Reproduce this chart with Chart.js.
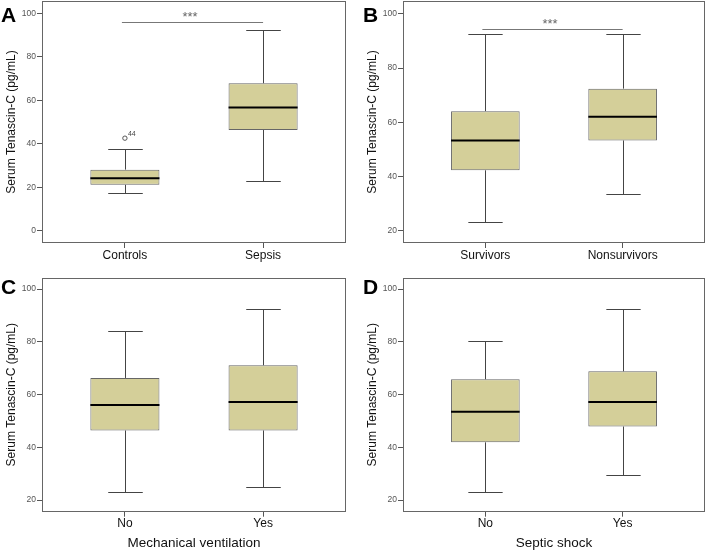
<!DOCTYPE html>
<html>
<head>
<meta charset="utf-8">
<script src="https://cdn.jsdelivr.net/npm/chart.js@4.4.0/dist/chart.umd.min.js"></script>
<style>
  body { margin: 0; background: #fff; }
  #wrap { position: relative; width: 709px; height: 551px; }
  canvas { position: absolute; }
</style>
</head>
<body>
<div id="wrap">
  <canvas id="panel-a" width="355" height="275" style="left:0;top:0"></canvas>
  <canvas id="panel-b" width="354" height="275" style="left:355px;top:0"></canvas>
  <canvas id="panel-c" width="355" height="276" style="left:0;top:275px"></canvas>
  <canvas id="panel-d" width="354" height="276" style="left:355px;top:275px"></canvas>
</div>
<script>
// Panel A: controls vs sepsis
const catsA = ['Controls', 'Sepsis'];
const lowA = [17.4, 23.0];
const q1A = [21.1, 46.4];
const medA = [24.1, 56.7];
const q3A = [28.1, 67.9];
const highA = [37.6, 92.6];
const outliersA = [42.6, null];
const outlierIdsA = ['44', ''];
const sigA = 95.9;

// Panel B: survivors vs nonsurvivors
const catsB = ['Survivors', 'Nonsurvivors'];
const lowB = [23.2, 33.5];
const q1B = [42.3, 53.3];
const medB = [53.3, 62.0];
const q3B = [64.1, 72.4];
const highB = [92.6, 92.6];
const sigB = 94.5;

// Panel C: mechanical ventilation
const catsC = ['No', 'Yes'];
const lowC = [23.2, 24.8];
const q1C = [46.4, 46.4];
const medC = [56.0, 57.2];
const q3C = [66.3, 71.1];
const highC = [84.2, 92.5];

// Panel D: septic shock
const catsD = ['No', 'Yes'];
const lowD = [23.2, 29.4];
const q1D = [41.9, 47.9];
const medD = [53.5, 57.2];
const q3D = [65.8, 68.8];
const highD = [80.3, 92.5];

const ticksA = [0, 20, 40, 60, 80, 100];
const ticksBCD = [20, 40, 60, 80, 100];

const yTitle = 'Serum Tenascin-C (pg/mL)';
const boxFill = '#d4cf99';

Chart.defaults.font.family = 'Arial, "Liberation Sans", sans-serif';
Chart.defaults.animation = false;

function makePanel(id, p) {
    const extras = {
        id: 'boxExtras',
        beforeDatasetsDraw(chart) {
            const ctx = chart.ctx;
            const x = chart.scales.x, y = chart.scales.y;
            const bars = chart.getDatasetMeta(0).data;
            ctx.save();
            ctx.strokeStyle = '#444';
            ctx.lineWidth = 1;
            p.cats.forEach((c, i) => {
                const cx = Math.round(x.getPixelForValue(i)) + 0.5;
                const half = bars[i].width / 4;
                const yLo = Math.round(y.getPixelForValue(p.low[i])) + 0.5;
                const yHi = Math.round(y.getPixelForValue(p.high[i])) + 0.5;
                ctx.beginPath();
                ctx.moveTo(cx, y.getPixelForValue(p.q1[i]));
                ctx.lineTo(cx, yLo);
                ctx.moveTo(cx, y.getPixelForValue(p.q3[i]));
                ctx.lineTo(cx, yHi);
                ctx.moveTo(cx - half, yLo);
                ctx.lineTo(cx + half, yLo);
                ctx.moveTo(cx - half, yHi);
                ctx.lineTo(cx + half, yHi);
                ctx.stroke();
            });
            ctx.restore();
        },
        afterDatasetsDraw(chart) {
            const ctx = chart.ctx;
            const x = chart.scales.x, y = chart.scales.y;
            const bars = chart.getDatasetMeta(0).data;
            ctx.save();
            // medians
            ctx.strokeStyle = '#000';
            ctx.lineWidth = 2;
            p.med.forEach((m, i) => {
                const b = bars[i];
                const ym = y.getPixelForValue(m);
                ctx.beginPath();
                ctx.moveTo(b.x - b.width / 2, ym);
                ctx.lineTo(b.x + b.width / 2, ym);
                ctx.stroke();
            });
            // outliers
            if (p.outliers) {
                ctx.lineWidth = 1;
                ctx.strokeStyle = '#555';
                p.outliers.forEach((v, i) => {
                    if (v == null) return;
                    const cx = x.getPixelForValue(i), cy = y.getPixelForValue(v);
                    ctx.beginPath();
                    ctx.arc(cx, cy, 2.2, 0, Math.PI * 2);
                    ctx.fillStyle = '#fff';
                    ctx.fill();
                    ctx.stroke();
                    ctx.fillStyle = '#444';
                    ctx.font = '7px Arial, "Liberation Sans", sans-serif';
                    ctx.textAlign = 'left';
                    ctx.textBaseline = 'bottom';
                    ctx.fillText(p.outlierIds[i], cx + 3, cy - 1);
                });
            }
            // significance bracket
            if (p.sig != null) {
                const ys = Math.round(y.getPixelForValue(p.sig)) + 0.5;
                const x0 = x.getPixelForValue(0), x1 = x.getPixelForValue(1);
                ctx.strokeStyle = '#777';
                ctx.lineWidth = 1;
                ctx.beginPath();
                ctx.moveTo(x0 - 3, ys);
                ctx.lineTo(x1, ys);
                ctx.stroke();
                ctx.fillStyle = '#666';
                ctx.font = '13px Arial, "Liberation Sans", sans-serif';
                ctx.textAlign = 'center';
                ctx.textBaseline = 'middle';
                ctx.fillText('***', (x0 + x1) / 2 - 4, ys - 5);
            }
            ctx.restore();
        },
        afterDraw(chart) {
            const ctx = chart.ctx;
            const a = chart.chartArea;
            ctx.save();
            ctx.strokeStyle = '#666';
            ctx.lineWidth = 1;
            ctx.strokeRect(Math.round(a.left) + 0.5, Math.round(a.top) + 0.5,
                Math.round(a.right - a.left) - 1, Math.round(a.bottom - a.top) - 1);
            ctx.fillStyle = '#000';
            ctx.font = 'bold 21px Arial, "Liberation Sans", sans-serif';
            ctx.textAlign = 'left';
            ctx.textBaseline = 'alphabetic';
            ctx.fillText(p.letter, p.letterX, p.letterY);
            ctx.restore();
        }
    };

    return new Chart(document.getElementById(id), {
        type: 'bar',
        data: {
            datasets: [{
                data: p.cats.map((c, i) => ({ x: i, y: [p.q1[i], p.q3[i]] })),
                backgroundColor: boxFill,
                borderColor: '#666',
                borderWidth: 1,
                borderSkipped: false,
                barPercentage: 0.5,
                categoryPercentage: 1
            }]
        },
        options: {
            responsive: false,
            layout: { padding: p.padding },
            plugins: { legend: { display: false }, tooltip: { enabled: false } },
            scales: {
                x: {
                    type: 'linear',
                    min: -0.6,
                    max: 1.6,
                    offset: false,
                    afterBuildTicks: (s) => { s.ticks = p.cats.map((c, i) => ({ value: i })); },
                    afterFit: (s) => { s.height = p.xHeight; s.paddingLeft = 0; s.paddingRight = 0; },
                    ticks: {
                        callback: (v) => p.cats[v],
                        color: '#111',
                        font: { size: 12 },
                        padding: 0,
                        maxRotation: 0,
                        autoSkip: false
                    },
                    grid: { drawOnChartArea: false, offset: false, tickLength: 5, color: '#555' },
                    border: { display: false },
                    title: {
                        display: !!p.xTitle,
                        text: p.xTitle || '',
                        color: '#111',
                        font: { size: 13.5 },
                        padding: 0
                    }
                },
                y: {
                    min: p.yMin,
                    max: p.yMax,
                    afterBuildTicks: (s) => { s.ticks = p.ticks.map((v) => ({ value: v })); },
                    afterFit: (s) => { s.width = 42; s.paddingTop = 0; s.paddingBottom = 0; },
                    ticks: { color: '#555', font: { size: 8.5 }, padding: 1 },
                    grid: { drawOnChartArea: false, tickLength: 5, color: '#555' },
                    border: { display: false },
                    title: {
                        display: true,
                        text: yTitle,
                        color: '#111',
                        font: { size: 12 },
                        padding: { top: 4, bottom: 0 }
                    }
                }
            }
        },
        plugins: [extras]
    });
}

makePanel('panel-a', {
    cats: catsA, low: lowA, q1: q1A, med: medA, q3: q3A, high: highA,
    outliers: outliersA, outlierIds: outlierIdsA, sig: sigA,
    ticks: ticksA, yMin: -5.7, yMax: 105.8,
    padding: { left: 0, top: 1, right: 9, bottom: 0 }, xHeight: 32,
    letter: 'A', letterX: 1, letterY: 21.5
});
makePanel('panel-b', {
    cats: catsB, low: lowB, q1: q1B, med: medB, q3: q3B, high: highB,
    sig: sigB,
    ticks: ticksBCD, yMin: 15.5, yMax: 104.7,
    padding: { left: 6, top: 1, right: 4, bottom: 0 }, xHeight: 32,
    letter: 'B', letterX: 8, letterY: 21.5
});
makePanel('panel-c', {
    cats: catsC, low: lowC, q1: q1C, med: medC, q3: q3C, high: highC,
    ticks: ticksBCD, yMin: 15.6, yMax: 104.3, xTitle: 'Mechanical ventilation',
    padding: { left: 0, top: 2.7, right: 9, bottom: 0 }, xHeight: 39.3,
    letter: 'C', letterX: 1, letterY: 18.5
});
makePanel('panel-d', {
    cats: catsD, low: lowD, q1: q1D, med: medD, q3: q3D, high: highD,
    ticks: ticksBCD, yMin: 15.6, yMax: 104.3, xTitle: 'Septic shock',
    padding: { left: 6, top: 2.7, right: 4, bottom: 0 }, xHeight: 39.3,
    letter: 'D', letterX: 8, letterY: 18.5
});
</script>
</body>
</html>
